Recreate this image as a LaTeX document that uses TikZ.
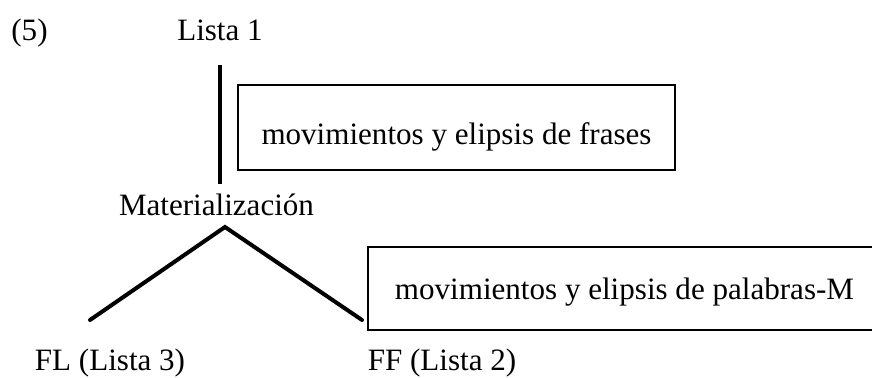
\documentclass[tikz,border=0pt]{standalone}
\usepackage{fontspec}
\setmainfont{Liberation Serif}
\usetikzlibrary{positioning,calc}

\begin{document}
\begin{tikzpicture}[
  x=0.75pt, y=-0.75pt,
  font=\fontsize{23.3}{28}\selectfont,
  lbl/.style={inner sep=0pt, anchor=base},
  opbox/.style={draw, line width=2pt, inner sep=0pt, text depth=5.25pt},
  stem/.style={line width=3pt},
  branch/.style={line width=3pt, line cap=round},
]
\useasboundingbox (0,0) rectangle (872,378);

% Labels
\node[lbl] (ex)  at (29.5,41)  {(5)};
\node[lbl] (l1)  at (220,41)   {Lista 1};
\node[lbl] (mat) at (216.5,215) {Materialización};
\node[lbl] (fl)  at (110,370)  {FL (Lista 3)};
\node[lbl] (ff)  at (442,370)  {FF (Lista 2)};

% Operation boxes
\node[opbox, minimum width=327.75pt, minimum height=63.75pt, text height=31.5pt]
  (frases) at (456.5,127.5) {movimientos y elipsis de frases};
\node[opbox, minimum width=384.75pt, minimum height=62.25pt, text height=21pt]
  (palabras) at (624.5,288.5) {movimientos y elipsis de palabras-M};

% Tree
\coordinate (apex)  at (225,227);
\coordinate (lfoot) at (90,320);
\coordinate (rfoot) at (362,320);
\draw[stem, shorten <=17.25pt, shorten >=6.75pt] (l1.south) -- (l1.south |- mat.north);
\draw[branch] (lfoot) -- (apex) -- (rfoot);

\end{tikzpicture}
\end{document}
